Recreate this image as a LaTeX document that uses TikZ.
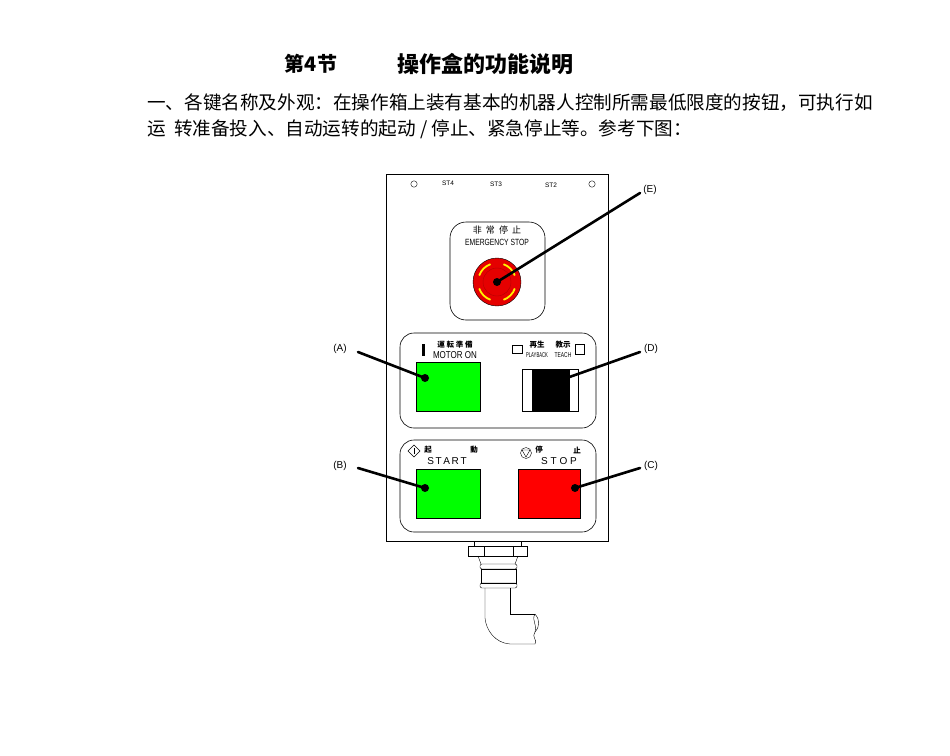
\documentclass[tikz,border=0pt]{standalone}
\usepackage{fontspec}
\setmainfont{Liberation Sans}
\newfontfamily\cjk{Noto Sans CJK SC}
\begin{document}
\begin{tikzpicture}[x=1pt,y=-1pt,
 lead/.style={line width=2.6pt,line cap=round},
 lbl/.style={font=\fontsize{10}{10}\selectfont},
 sm/.style={font=\fontsize{6.5}{6.5}\selectfont,inner sep=0},
 pnl/.style={draw,rounded corners=14pt,line width=0.6pt}]
\useasboundingbox (0,0) rectangle (950,755);
\node[font=\cjk\bfseries\fontsize{20}{20}\selectfont] (t1) at (311,64) {第4节};
\node[font=\cjk\bfseries\fontsize{22}{22}\selectfont] (t2) at (485,64) {操作盒的功能说明};
\node[anchor=west,font=\cjk\fontsize{18.6}{18.6}\selectfont,inner sep=0] (p1) at (147,103) {一、各键名称及外观：在操作箱上装有基本的机器人控制所需最低限度的按钮，可执行如};
\node[anchor=west,font=\cjk\fontsize{18.6}{18.6}\selectfont,inner sep=0] (p2) at (147,129) {运\ \ 转准备投入、自动运转的起动 / 停止、紧急停止等。参考下图：};
% box
\draw[line width=0.7pt] (386,174) rectangle (608,541);
\draw (414,184) circle (3.2); \draw (592,184) circle (3.2);
\node[sm] (st4) at (448,183) {ST4};
\node[sm] (st3) at (496,184) {ST3};
\node[sm] (st2) at (551,185) {ST2};
% emergency
\draw[pnl,rounded corners=16pt] (450,222) rectangle (545,320);
\node[sm,font=\cjk\fontsize{9}{9}\selectfont] (ej) at (497,230) {非\ \ 常\ \ 停\ \ 止};
\node[sm,font=\fontsize{9}{9}\selectfont\addfontfeatures{FakeStretch=0.75}] (ee) at (497,242) {EMERGENCY STOP};
\fill[red!90!black] (497,282) circle (24);
\draw (497,282) circle (24);
\draw[red!70!black] (497,282) circle (14);
\foreach \a in {20,110,200,290}
 \draw[yellow,line width=1.8pt] (497,282) ++(\a:19) arc (\a:\a+50:19);
\coordinate (ec) at (497,282);
\coordinate (E) at (640,193);
\draw[lead] (ec) -- (E);
\fill (ec) circle (4);
\node[lbl] (le) at (650,190) {(E)};
% panel 1
\draw[pnl] (400,333) rectangle (596,428);
\fill (422,344) rectangle (425,356);
\node[sm,font=\cjk\bfseries\fontsize{7.5}{7.5}\selectfont] at (455,345) {運\ 転\ 準\ 備};
\node[sm,font=\fontsize{10}{10}\selectfont\addfontfeatures{FakeStretch=0.8}] at (455,355) {MOTOR ON};
\node[draw,fill=green,minimum width=64,minimum height=49,anchor=north west,inner sep=0] (A) at (416,362) {};
\draw (512,345) rectangle (522,353);
\node[sm,font=\cjk\bfseries\fontsize{7.5}{7.5}\selectfont] at (537,345) {再生};
\node[sm,font=\fontsize{7}{7}\selectfont\addfontfeatures{FakeStretch=0.6}] at (537,355) {PLAYBACK};
\node[sm,font=\cjk\bfseries\fontsize{7.5}{7.5}\selectfont] at (563,345) {教示};
\node[sm,font=\fontsize{7}{7}\selectfont\addfontfeatures{FakeStretch=0.7}] at (563,355) {TEACH};
\draw (575,344) rectangle (584,354);
\node[draw,minimum width=56,minimum height=42,anchor=north west,inner sep=0] (Dw) at (522,369) {};
\fill (532,370) rectangle (570,411);
\coordinate (D) at (561,380);
% panel 2
\draw[pnl] (400,440) rectangle (596,532);
\draw (414,445) -- (420,451) -- (414,457) -- (408,451) -- cycle;
\draw (414,448) -- (414,454);
\node[sm,font=\cjk\bfseries\fontsize{7.5}{7.5}\selectfont] at (428,450) {起};
\node[sm,font=\cjk\bfseries\fontsize{7.5}{7.5}\selectfont] at (474,450) {動};
\node[sm,font=\fontsize{10}{10}\selectfont] at (447,461) {S\,T\,A\,R\,T};
\draw (526,453) circle (5.5);
\draw (522,450) -- (530,450) -- (526,457) -- cycle;
\node[sm,font=\cjk\bfseries\fontsize{7.5}{7.5}\selectfont] at (539,450) {停};
\node[sm,font=\cjk\bfseries\fontsize{7.5}{7.5}\selectfont] at (577,450) {止};
\node[sm,font=\fontsize{10}{10}\selectfont] at (559,461) {S\ T\ O\ P};
\node[draw,fill=green,minimum width=64,minimum height=49,anchor=north west,inner sep=0] (B) at (416,469) {};
\node[draw,fill=red,minimum width=62,minimum height=49,anchor=north west,inner sep=0] (C) at (518,469) {};
% leaders
\coordinate (la) at (358,352); \coordinate (ld) at (640,352);
\coordinate (lb) at (358,468); \coordinate (lc) at (640,468);
\coordinate (ae) at (425,378); \coordinate (be) at (425,488); \coordinate (ce) at (575,488);
\draw[lead] (la) -- (ae); \fill (ae) circle (4);
\draw[lead] (ld) -- (D);
\draw[lead] (lb) -- (be); \fill (be) circle (4);
\draw[lead] (lc) -- (ce); \fill (ce) circle (4);
\node[lbl] at (340,349) {(A)};
\node[lbl] at (651,349) {(D)};
\node[lbl] at (340,466) {(B)};
\node[lbl] at (651,466) {(C)};
% cable
\draw (474,541) -- (474,546) (521,541) -- (521,546);
\draw (468,546) rectangle (527,556);
\draw (484,546) -- (484,556) (513,546) -- (513,556);
\draw (478,556) -- (481,564) (518,556) -- (515,564);
\draw[rounded corners=2] (480,564) rectangle (517,569);
\draw (481,569) rectangle (516,583);
\draw[rounded corners=2] (480,583) rectangle (517,588);
\draw (485,588) -- (485,618) .. controls (486,630) and (495,643) .. (510,644) -- (535,644);
\draw (510,588) -- (510,614) -- (535,614);
\draw (535,614) .. controls (531,620) and (538,626) .. (535,632) .. controls (531,637) and (538,640) .. (535,644);
\draw (535,614) .. controls (540,620) and (540,626) .. (535,632);
\end{tikzpicture}
\end{document}
